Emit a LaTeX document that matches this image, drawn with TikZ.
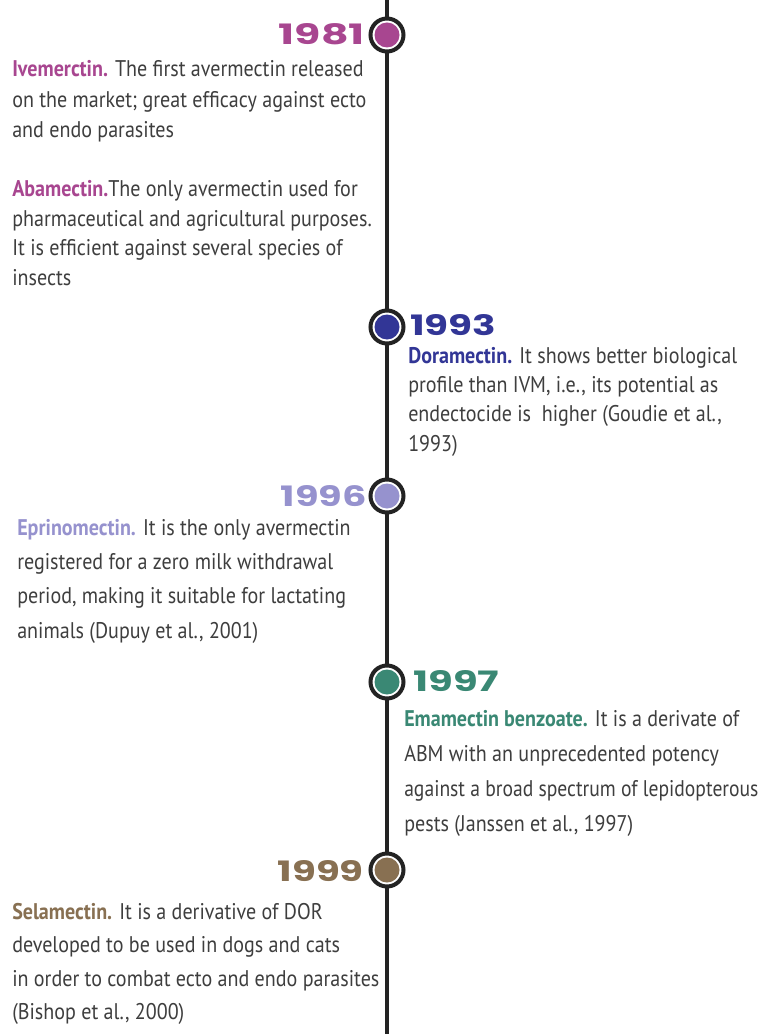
\documentclass[tikz,border=0pt]{standalone}
\usepackage{fontspec}
\setmainfont{PT Sans}
\newfontfamily\yearfont{Poppins}
\definecolor{cA}{RGB}{168,70,144}
\definecolor{cB}{RGB}{50,54,150}
\definecolor{cC}{RGB}{150,146,206}
\definecolor{cD}{RGB}{58,136,116}
\definecolor{cE}{RGB}{136,112,82}
\definecolor{bodyc}{RGB}{62,62,62}
\definecolor{linec}{RGB}{35,35,35}
\newcommand{\yeartext}[1]{\resizebox{64.5pt}{15.75pt}{#1}}
\newcommand{\sq}[1]{\scalebox{0.885}[1]{#1}}
\newcommand{\sqn}[1]{\scalebox{0.865}[1]{#1}}
\tikzset{
  axisline/.style={line width=3pt, draw=linec},
  ring/.style={circle, draw=linec, line width=3pt, fill=white, minimum size=24.75pt, inner sep=0pt},
  dot/.style={circle, minimum size=18.75pt, inner sep=0pt},
  yr/.style={inner sep=0pt, font=\yearfont\bfseries},
  body/.style={anchor=base west, inner sep=0pt, text=bodyc, font=\fontsize{17}{21}\selectfont},
}
\begin{document}
\begin{tikzpicture}[x=0.75pt,y=-0.75pt]
\useasboundingbox (0,0) rectangle (764,1034);
\fill[white] (0,0) rectangle (764,1034);
% axis
\coordinate (top) at (387,0);
\coordinate (bot) at (387,1034);
\draw[axisline] (top) -- (bot);
% markers
\node[ring] (r1981) at (387,35) {};  \node[dot, fill=cA] (d1981) at (r1981) {};
\node[ring] (r1993) at (387,327) {}; \node[dot, fill=cB] (d1993) at (r1993) {};
\node[ring] (r1996) at (387,496) {}; \node[dot, fill=cC] (d1996) at (r1996) {};
\node[ring] (r1997) at (387,682) {}; \node[dot, fill=cD] (d1997) at (r1997) {};
\node[ring] (r1999) at (387,870) {}; \node[dot, fill=cE] (d1999) at (r1999) {};
% years
\node[yr, text=cA, anchor=east] (y1981) at (365,34) {\yeartext{1981}};
\node[yr, text=cB, anchor=west] (y1993) at (410,325) {\yeartext{1993}};
\node[yr, text=cC, anchor=east] (y1996) at (367,496) {\yeartext{1996}};
\node[yr, text=cD, anchor=west] (y1997) at (413,681) {\yeartext{1997}};
\node[yr, text=cE, anchor=east] (y1999) at (364,871) {\yeartext{1999}};
% Ivemectin
\node[body] (a1) at (12,77) {\sq{\textcolor{cA}{\bfseries Ivemerctin.} The first avermectin released}};
\node[body] (a2) at (12,108) {\sq{on the market; great efficacy against ecto}};
\node[body] (a3) at (12,138) {\sq{and endo parasites}};
% Abamectin
\node[body] (b1) at (12,197) {\sq{\textcolor{cA}{\bfseries Abamectin.}The only avermectin used for}};
\node[body] (b2) at (12,227) {\sq{pharmaceutical and agricultural purposes.}};
\node[body] (b3) at (12,256) {\sq{It is efficient against several species of}};
\node[body] (b4) at (12,285) {\sq{insects}};
% Doramectin
\node[body] (c1) at (408,363) {\sq{\textcolor{cB}{\bfseries Doramectin.} It shows better biological}};
\node[body] (c2) at (408,392) {\sq{profile than IVM, i.e., its potential as}};
\node[body] (c3) at (408,421) {\sq{endectocide is\ \ higher (Goudie et al.,}};
\node[body] (c4) at (408,451) {\sq{1993)}};
% Eprinomectin
\node[body] (e1) at (17,535) {\sq{\textcolor{cC}{\bfseries Eprinomectin.} It is the only avermectin}};
\node[body] (e2) at (17,569) {\sq{registered for a zero milk withdrawal}};
\node[body] (e3) at (17,603) {\sq{period, making it suitable for lactating}};
\node[body] (e4) at (17,638) {\sq{animals (Dupuy et al., 2001)}};
% Emamectin
\node[body] (m1) at (404,726) {\sq{\textcolor{cD}{\bfseries Emamectin benzoate.} It is a derivate of}};
\node[body] (m2) at (404,761) {\sq{ABM with an unprecedented potency}};
\node[body] (m3) at (404,796) {\sqn{against a broad spectrum of lepidopterous}};
\node[body] (m4) at (404,831) {\sq{pests (Janssen et al., 1997)}};
% Selamectin
\node[body] (s1) at (12,919) {\sq{\textcolor{cE}{\bfseries Selamectin.} It is a derivative of DOR}};
\node[body] (s2) at (12,952) {\sq{developed to be used in dogs and cats}};
\node[body] (s3) at (12,986) {\sq{in order to combat ecto and endo parasites}};
\node[body] (s4) at (12,1019) {\sq{(Bishop et al., 2000)}};
\end{tikzpicture}
\end{document}
